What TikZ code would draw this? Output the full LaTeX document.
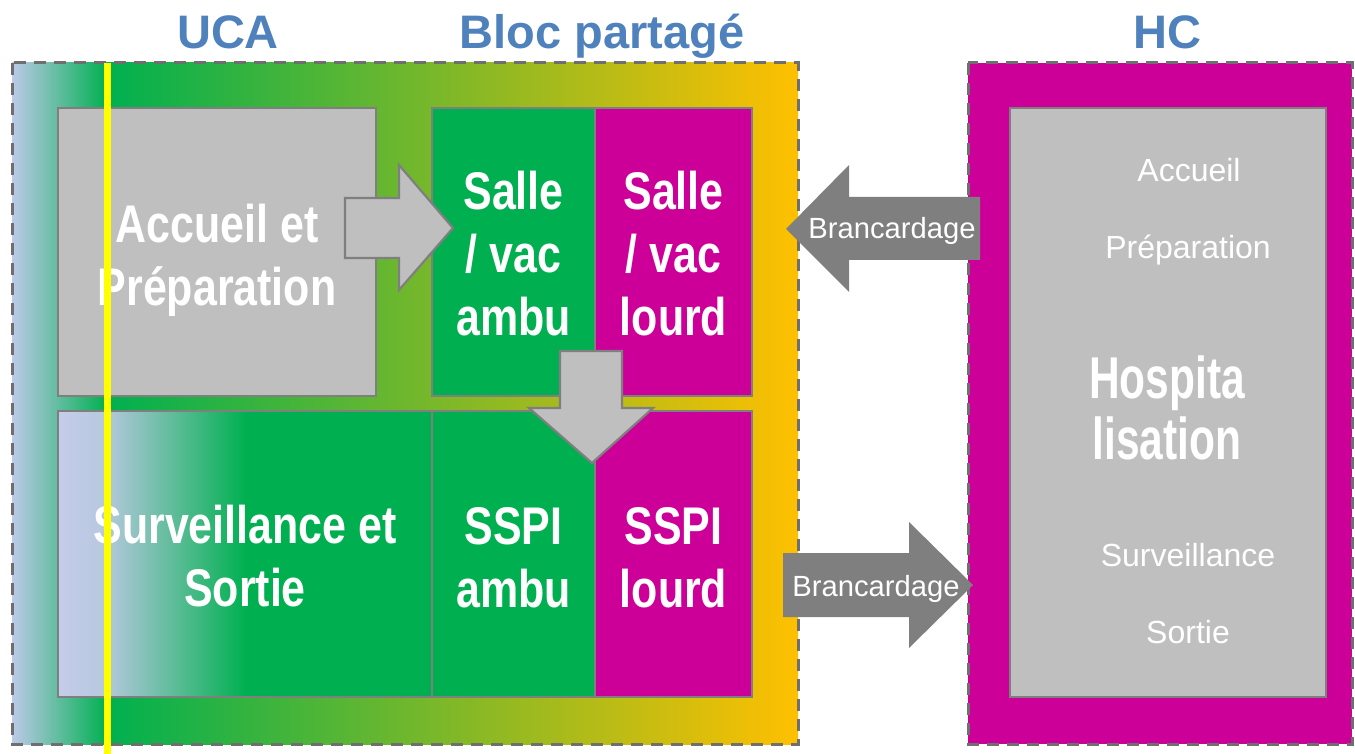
\documentclass[tikz,border=0pt]{standalone}
\usepackage{fontspec}
\setmainfont{Liberation Sans}
\newfontfamily\narrowbold{Liberation Sans}[FakeStretch=0.81]
\newfontfamily\hospfont{Liberation Sans}[FakeStretch=0.72]
\definecolor{gfill}{HTML}{BFBFBF}
\definecolor{lgray}{HTML}{7F7F7F}
\definecolor{dgray}{HTML}{6F6F6F}
\definecolor{grn}{HTML}{00B050}
\definecolor{mag}{HTML}{CC0099}
\definecolor{orng}{HTML}{FFC000}
\definecolor{lav}{HTML}{BCC9E8}
\definecolor{lavb}{HTML}{C5CCEA}
\definecolor{lavc}{HTML}{B6C8DE}
\definecolor{ttl}{HTML}{4F81BD}
\definecolor{ylw}{HTML}{FFFF00}
\begin{document}
\begin{tikzpicture}[x=0.5pt,y=-0.5pt,
  boxline/.style={draw=lgray, line width=1.25pt},
  zone/.style={draw=dgray, line width=1.5pt, dash pattern=on 6pt off 4pt},
  grayarrow/.style={draw=lgray, line width=1.1pt, fill=gfill},
  darkarrow/.style={fill=lgray},
  bigtxt/.style={text=white, font={\narrowbold\bfseries\fontsize{26.5pt}{31.5pt}\selectfont}, align=center, inner sep=0pt},
  hosptxt/.style={text=white, font={\hospfont\bfseries\fontsize{29.5pt}{30.5pt}\selectfont}, align=center, inner sep=0pt},
  smalltxt/.style={text=white, font={\fontsize{16pt}{19pt}\selectfont}, inner sep=0pt, anchor=base},
  brtxt/.style={text=white, font={\fontsize{14.6pt}{17pt}\selectfont}, inner sep=0pt, anchor=base},
  titletxt/.style={text=ttl, font={\bfseries\fontsize{23.5pt}{27pt}\selectfont}, inner sep=0pt, anchor=base}]
\useasboundingbox (0,0) rectangle (1355,754);
% UCA + bloc zone
\begin{scope}
  \clip (12,63) rectangle (798,744);
  \shade[left color=lav, right color=grn] (12,63) rectangle (107,744);
  \shade[left color=grn, right color=orng] (106,63) rectangle (798,744);
\end{scope}
\draw[zone] (12,63) rectangle (798,744);
% HC zone
\fill[mag] (968,63) rectangle (1352,744);
\draw[zone] (968,63) rectangle (1352,744);
\draw[boxline, fill=gfill] (1010,108) rectangle (1326,697);
% boxes
\draw[boxline, fill=gfill] (58,108) rectangle (376,396);
\draw[boxline, fill=grn] (432,108) rectangle (595,396);
\draw[boxline, fill=mag] (595,108) rectangle (752,396);
\begin{scope}
  \clip (58,411) rectangle (432,697);
  \shade[left color=lavb, right color=lavc] (58,411) rectangle (106,697);
  \shade[left color=lavc, right color=grn] (105,411) rectangle (246,697);
  \fill[grn] (245,411) rectangle (432,697);
\end{scope}
\draw[boxline] (58,411) rectangle (432,697);
\draw[boxline, fill=grn] (432,411) rectangle (595,697);
\draw[boxline, fill=mag] (595,411) rectangle (752,697);
% block arrows
\draw[grayarrow] (345,198) -- (399,198) -- (399,165) -- (453,228) -- (399,290) -- (399,258) -- (345,258) -- cycle;
\draw[grayarrow] (560,351) -- (622,351) -- (622,408) -- (653,408) -- (592,463) -- (529,408) -- (560,408) -- cycle;
\fill[darkarrow] (980,197) -- (849,197) -- (849,165) -- (786,229) -- (849,292) -- (849,260) -- (980,260) -- cycle;
\fill[darkarrow] (783,553) -- (909,553) -- (909,522) -- (973,585) -- (909,648) -- (909,617) -- (783,617) -- cycle;
% texts
\node[bigtxt] (accprep) at (217,260) {Accueil et\\Préparation};
\node[bigtxt] (salleA) at (513.5,254) {Salle\\/ vac\\ambu};
\node[bigtxt] (salleL) at (673.5,254) {Salle\\/ vac\\lourd};
\node[bigtxt] (surv) at (245,556) {Surveillance et\\Sortie};
\node[bigtxt] (sspiA) at (513.5,557.5) {SSPI\\ambu};
\node[bigtxt] (sspiL) at (673.5,557.5) {SSPI\\lourd};
\node[hosptxt] (hosp) at (1167,408) {Hospita\\lisation};
\node[smalltxt] (hcacc) at (1189,182) {Accueil};
\node[smalltxt] (hcprep) at (1188,259) {Préparation};
\node[smalltxt] (hcsurv) at (1188,566) {Surveillance};
\node[smalltxt] (hcsort) at (1188,643) {Sortie};
\node[brtxt] (br1) at (892,239) {Brancardage};
\node[brtxt] (br2) at (876,596) {Brancardage};
\node[titletxt] (tuca) at (228,49) {UCA};
\node[titletxt] (tbloc) at (602,49) {Bloc partagé};
\node[titletxt] (thc) at (1167,49) {HC};
% yellow marker line
\draw[ylw, line width=3.5pt] (107,63) -- (107,754);
\end{tikzpicture}
\end{document}
